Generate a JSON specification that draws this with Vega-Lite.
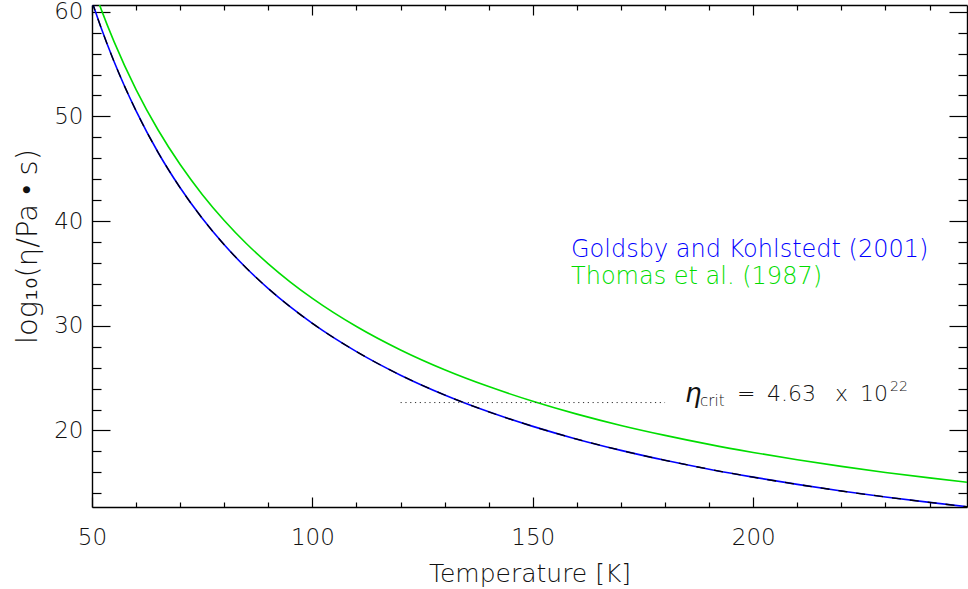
{
  "$schema": "https://vega.github.io/schema/vega-lite/v6.json",
  "width": 875,
  "height": 502,
  "autosize": {"type": "none"},
  "padding": {"left": 92, "top": 5, "right": 1, "bottom": 82},
  "background": "white",
  "config": {
    "view": {"stroke": null},
    "font": "DejaVu Sans",
    "axis": {"grid": false, "domainColor": "#000", "domainWidth": 1.4, "tickColor": "#000", "tickWidth": 1.2, "labelFlush": false, "labelOverlap": false, "labelColor": "#111", "labelFontSize": 23, "labelFontWeight": 200, "titleColor": "#111", "titleFontSize": 25, "titleFontWeight": 200}
  },
  "datasets": {
    "curves": [
      {"T": 50, "v": 60.97, "model": "Goldsby and Kohlstedt (2001)"},
      {"T": 52, "v": 58.54, "model": "Goldsby and Kohlstedt (2001)"},
      {"T": 55, "v": 55.24, "model": "Goldsby and Kohlstedt (2001)"},
      {"T": 60, "v": 50.52, "model": "Goldsby and Kohlstedt (2001)"},
      {"T": 65, "v": 46.55, "model": "Goldsby and Kohlstedt (2001)"},
      {"T": 70, "v": 43.18, "model": "Goldsby and Kohlstedt (2001)"},
      {"T": 75, "v": 40.27, "model": "Goldsby and Kohlstedt (2001)"},
      {"T": 80, "v": 37.74, "model": "Goldsby and Kohlstedt (2001)"},
      {"T": 85, "v": 35.52, "model": "Goldsby and Kohlstedt (2001)"},
      {"T": 90, "v": 33.55, "model": "Goldsby and Kohlstedt (2001)"},
      {"T": 95, "v": 31.80, "model": "Goldsby and Kohlstedt (2001)"},
      {"T": 100, "v": 30.23, "model": "Goldsby and Kohlstedt (2001)"},
      {"T": 110, "v": 27.53, "model": "Goldsby and Kohlstedt (2001)"},
      {"T": 120, "v": 25.28, "model": "Goldsby and Kohlstedt (2001)"},
      {"T": 130, "v": 23.39, "model": "Goldsby and Kohlstedt (2001)"},
      {"T": 140, "v": 21.78, "model": "Goldsby and Kohlstedt (2001)"},
      {"T": 150, "v": 20.39, "model": "Goldsby and Kohlstedt (2001)"},
      {"T": 160, "v": 19.17, "model": "Goldsby and Kohlstedt (2001)"},
      {"T": 170, "v": 18.10, "model": "Goldsby and Kohlstedt (2001)"},
      {"T": 180, "v": 17.15, "model": "Goldsby and Kohlstedt (2001)"},
      {"T": 190, "v": 16.30, "model": "Goldsby and Kohlstedt (2001)"},
      {"T": 200, "v": 15.54, "model": "Goldsby and Kohlstedt (2001)"},
      {"T": 210, "v": 14.85, "model": "Goldsby and Kohlstedt (2001)"},
      {"T": 220, "v": 14.22, "model": "Goldsby and Kohlstedt (2001)"},
      {"T": 230, "v": 13.65, "model": "Goldsby and Kohlstedt (2001)"},
      {"T": 240, "v": 13.13, "model": "Goldsby and Kohlstedt (2001)"},
      {"T": 248.5, "v": 12.72, "model": "Goldsby and Kohlstedt (2001)"},
      {"T": 50, "v": 62.66, "model": "Thomas et al. (1987)"},
      {"T": 52, "v": 60.32, "model": "Thomas et al. (1987)"},
      {"T": 55, "v": 57.14, "model": "Thomas et al. (1987)"},
      {"T": 60, "v": 52.56, "model": "Thomas et al. (1987)"},
      {"T": 65, "v": 48.70, "model": "Thomas et al. (1987)"},
      {"T": 70, "v": 45.40, "model": "Thomas et al. (1987)"},
      {"T": 75, "v": 42.55, "model": "Thomas et al. (1987)"},
      {"T": 80, "v": 40.06, "model": "Thomas et al. (1987)"},
      {"T": 85, "v": 37.86, "model": "Thomas et al. (1987)"},
      {"T": 90, "v": 35.92, "model": "Thomas et al. (1987)"},
      {"T": 95, "v": 34.18, "model": "Thomas et al. (1987)"},
      {"T": 100, "v": 32.62, "model": "Thomas et al. (1987)"},
      {"T": 110, "v": 29.93, "model": "Thomas et al. (1987)"},
      {"T": 120, "v": 27.69, "model": "Thomas et al. (1987)"},
      {"T": 130, "v": 25.80, "model": "Thomas et al. (1987)"},
      {"T": 140, "v": 24.19, "model": "Thomas et al. (1987)"},
      {"T": 150, "v": 22.79, "model": "Thomas et al. (1987)"},
      {"T": 160, "v": 21.56, "model": "Thomas et al. (1987)"},
      {"T": 170, "v": 20.48, "model": "Thomas et al. (1987)"},
      {"T": 180, "v": 19.53, "model": "Thomas et al. (1987)"},
      {"T": 190, "v": 18.67, "model": "Thomas et al. (1987)"},
      {"T": 200, "v": 17.90, "model": "Thomas et al. (1987)"},
      {"T": 210, "v": 17.20, "model": "Thomas et al. (1987)"},
      {"T": 220, "v": 16.57, "model": "Thomas et al. (1987)"},
      {"T": 230, "v": 15.99, "model": "Thomas et al. (1987)"},
      {"T": 240, "v": 15.47, "model": "Thomas et al. (1987)"},
      {"T": 248.5, "v": 15.05, "model": "Thomas et al. (1987)"}
    ],
    "legendText": [
      {"T": 158.67, "v": 36.61, "model": "Goldsby and Kohlstedt (2001)"},
      {"T": 158.67, "v": 34.0, "model": "Thomas et al. (1987)"}
    ],
    "crit": [{"T1": 120, "T2": 180, "v": 22.666}],
    "eta": [{"T": 184.53, "v": 22.75, "label": "η"}],
    "sub": [{"T": 187.94, "v": 22.30, "label": "crit"}],
    "tokens": [
      {"T": 196.33, "v": 22.77, "label": "="},
      {"T": 203.13, "v": 22.77, "label": "4.63"},
      {"T": 218.56, "v": 22.77, "label": "x"},
      {"T": 224.23, "v": 22.77, "label": "10"}
    ],
    "sup": [{"T": 231.03, "v": 23.79, "label": "22"}]
  },
  "layer": [
    {
      "data": {"name": "curves"},
      "mark": {"type": "line", "clip": true, "strokeWidth": 1.6, "interpolate": "monotone"},
      "encoding": {
        "x": {"field": "T", "type": "quantitative", "scale": {"domain": [50, 248.5], "nice": false, "zero": false},
          "axis": {"orient": "bottom", "values": [50, 100, 150, 200], "tickSize": -10, "labelPadding": 29, "title": "Temperature [K]", "titleY": 74, "titleBaseline": "alphabetic"}},
        "y": {"field": "v", "type": "quantitative", "scale": {"domain": [12.69, 60.64], "nice": false, "zero": false},
          "axis": {"orient": "left", "values": [20, 30, 40, 50, 60], "tickSize": -18, "labelPadding": 27, "title": "log₁₀(η/Pa • s)", "titleFontSize": 29, "titleX": -56, "titleY": 241, "titleAngle": -90, "titleAlign": "center", "titleBaseline": "alphabetic"}},
        "color": {"field": "model", "type": "nominal", "scale": {"domain": ["Goldsby and Kohlstedt (2001)", "Thomas et al. (1987)"], "range": ["#0000ff", "#00dd00"]}, "legend": null}
      }
    },
    {
      "data": {"name": "curves"},
      "transform": [{"filter": "datum.model === 'Goldsby and Kohlstedt (2001)'"}],
      "mark": {"type": "line", "clip": true, "strokeWidth": 1.3, "color": "#000", "strokeDash": [9, 9], "interpolate": "monotone"},
      "encoding": {
        "x": {"field": "T", "type": "quantitative", "scale": {"domain": [50, 248.5], "nice": false, "zero": false},
          "axis": {"orient": "bottom", "values": [60, 70, 80, 90, 110, 120, 130, 140, 160, 170, 180, 190, 210, 220, 230, 240], "tickSize": -5, "labels": false, "domain": false, "title": null}},
        "y": {"field": "v", "type": "quantitative", "scale": {"domain": [12.69, 60.64], "nice": false, "zero": false},
          "axis": {"orient": "left", "values": [14, 16, 18, 22, 24, 26, 28, 32, 34, 36, 38, 42, 44, 46, 48, 52, 54, 56, 58], "tickSize": -9, "labels": false, "domain": false, "title": null}}
      }
    },
    {
      "data": {"name": "crit"},
      "mark": {"type": "rule", "color": "#333", "strokeWidth": 1, "strokeDash": [1.2, 3.6]},
      "encoding": {
        "x": {"field": "T1", "type": "quantitative", "scale": {"domain": [50, 248.5], "nice": false, "zero": false},
          "axis": {"orient": "top", "values": [50, 100, 150, 200], "tickSize": -10, "labels": false, "title": null}},
        "x2": {"field": "T2"},
        "y": {"field": "v", "type": "quantitative", "scale": {"domain": [12.69, 60.64], "nice": false, "zero": false},
          "axis": {"orient": "right", "values": [20, 30, 40, 50, 60], "tickSize": -18, "labels": false, "title": null}}
      }
    },
    {
      "data": {"name": "legendText"},
      "mark": {"type": "text", "align": "left", "baseline": "alphabetic", "fontSize": 24, "fontWeight": 200},
      "encoding": {
        "x": {"field": "T", "type": "quantitative", "scale": {"domain": [50, 248.5], "nice": false, "zero": false},
          "axis": {"orient": "top", "values": [60, 70, 80, 90, 110, 120, 130, 140, 160, 170, 180, 190, 210, 220, 230, 240], "tickSize": -5, "labels": false, "domain": false, "title": null}},
        "y": {"field": "v", "type": "quantitative", "scale": {"domain": [12.69, 60.64], "nice": false, "zero": false},
          "axis": {"orient": "right", "values": [14, 16, 18, 22, 24, 26, 28, 32, 34, 36, 38, 42, 44, 46, 48, 52, 54, 56, 58], "tickSize": -9, "labels": false, "domain": false, "title": null}},
        "text": {"field": "model"},
        "color": {"field": "model", "type": "nominal", "legend": null}
      }
    },
    {
      "data": {"name": "eta"},
      "mark": {"type": "text", "align": "left", "baseline": "alphabetic", "fontSize": 26, "fontStyle": "italic", "color": "#111"},
      "encoding": {
        "x": {"field": "T", "type": "quantitative", "axis": null},
        "y": {"field": "v", "type": "quantitative", "axis": null},
        "text": {"field": "label"}
      }
    },
    {
      "data": {"name": "sub"},
      "mark": {"type": "text", "align": "left", "baseline": "alphabetic", "fontSize": 15, "fontWeight": 200, "color": "#111"},
      "encoding": {
        "x": {"field": "T", "type": "quantitative", "axis": null},
        "y": {"field": "v", "type": "quantitative", "axis": null},
        "text": {"field": "label"}
      }
    },
    {
      "data": {"name": "tokens"},
      "mark": {"type": "text", "align": "left", "baseline": "alphabetic", "fontSize": 22, "fontWeight": 200, "color": "#111"},
      "encoding": {
        "x": {"field": "T", "type": "quantitative", "axis": null},
        "y": {"field": "v", "type": "quantitative", "axis": null},
        "text": {"field": "label"}
      }
    },
    {
      "data": {"name": "sup"},
      "mark": {"type": "text", "align": "left", "baseline": "alphabetic", "fontSize": 14, "fontWeight": 200, "color": "#111"},
      "encoding": {
        "x": {"field": "T", "type": "quantitative", "axis": null},
        "y": {"field": "v", "type": "quantitative", "axis": null},
        "text": {"field": "label"}
      }
    }
  ],
  "resolve": {"axis": {"x": "independent", "y": "independent"}}
}
